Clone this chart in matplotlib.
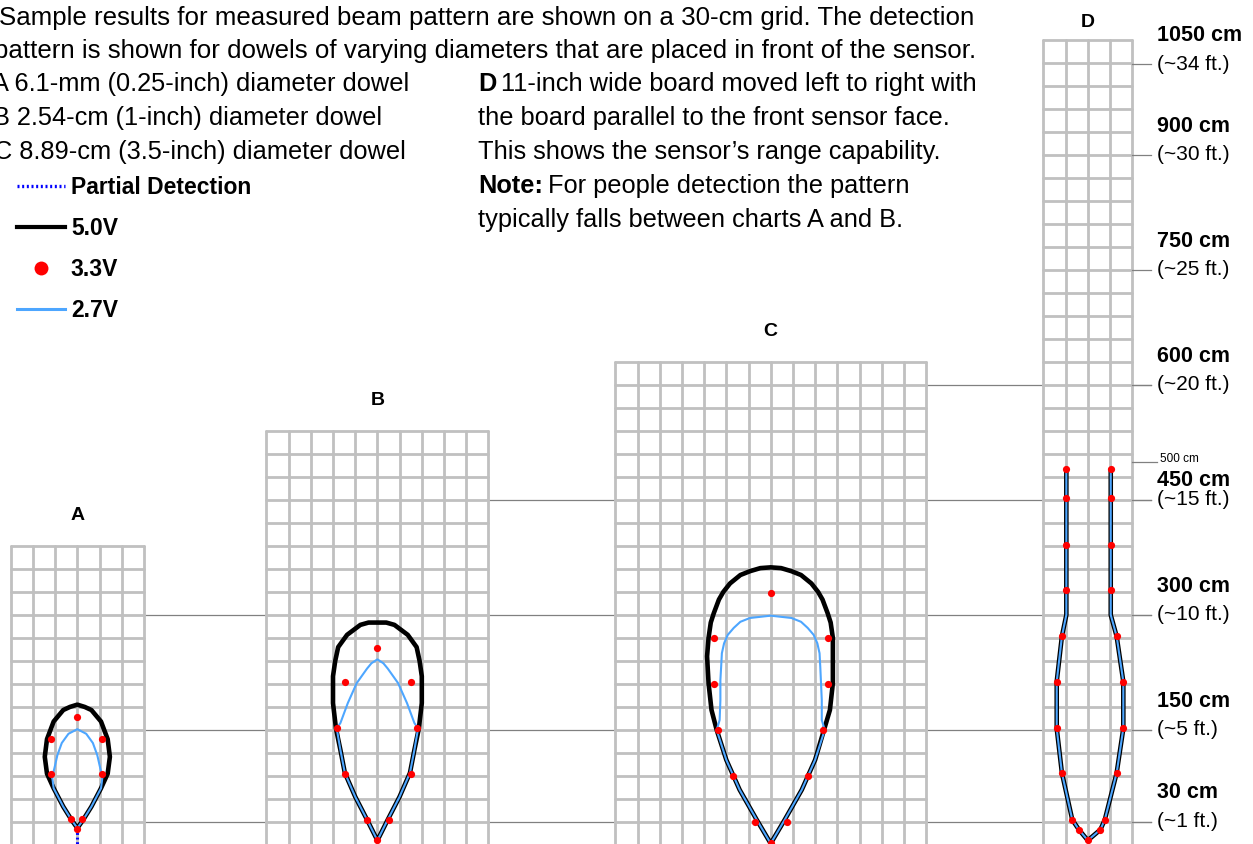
import matplotlib
matplotlib.use('Agg')
import matplotlib.pyplot as plt
from matplotlib.lines import Line2D

plt.rcParams['font.family'] = ['Liberation Sans', 'DejaVu Sans']

# -----------------------------
# data (cm, x relative to the sensor, y = distance from sensor)
# -----------------------------
A_v50_x = [0, -8, -19, -32, -41, -44, -41, -32, -19, -10, 0, 10, 19, 32, 41, 44, 41, 32, 19, 8, 0]
A_v50_y = [22, 33, 50, 74, 93, 115, 138, 161, 176, 180, 183, 180, 176, 161, 138, 115, 93, 74, 50, 33, 22]
A_v33_x = [0, -35, 34, -35, 34, -8, 6, 0]
A_v33_y = [167, 138, 138, 93, 93, 34, 34, 21]
A_v27_x = [0, -8, -19, -32, -34, -31, -27, -21, -12, 0, 12, 21, 27, 31, 34, 32, 19, 8, 0]
A_v27_y = [22, 33, 50, 74, 89, 100, 117, 133, 145, 151, 145, 133, 117, 100, 89, 74, 50, 33, 22]
A_part_x = [0, 0]
A_part_y = [22, 0]

B_v50_x = [0, -14, -30, -44, -50, -56, -60, -60, -57, -53, -41, -23, -12, 0,
           12, 23, 41, 53, 57, 60, 60, 56, 50, 44, 30, 14, 0]
B_v50_y = [6, 33, 63, 94, 124, 152, 185, 220, 240, 258, 274, 287, 290, 290,
           290, 287, 274, 258, 240, 220, 185, 152, 124, 94, 63, 33, 6]
B_v33_x = [0, -44, 46, -55, 54, -44, 45, -14, 16, 0]
B_v33_y = [257, 212, 212, 152, 152, 93, 93, 33, 33, 6]
B_v27_x = [0, -14, -30, -44, -50, -55, -50, -40, -28, -14, -8, 0,
           8, 14, 28, 40, 50, 55, 50, 44, 30, 14, 0]
B_v27_y = [6, 33, 63, 94, 124, 152, 159, 185, 211, 230, 237, 242,
           237, 230, 211, 185, 159, 152, 124, 94, 63, 33, 6]

C_v50_x = [0, -19, -42, -60, -73, -80, -84, -86, -84, -81, -77, -70, -64, -55, -41, -28, -14, 0,
           14, 28, 41, 55, 64, 70, 77, 81, 84, 84, 84, 80, 72, 60, 42, 19, 0]
C_v50_y = [2, 33, 72, 111, 150, 176, 211, 246, 270, 290, 302, 320, 330, 341, 352, 357, 361, 362,
           361, 357, 352, 341, 330, 320, 302, 290, 270, 246, 211, 176, 150, 111, 72, 33, 2]
C_v33_x = [0, -77, 77, -77, 77, -71, 71, -51, 51, -21, 22, 0]
C_v33_y = [329, 270, 270, 210, 210, 150, 150, 90, 90, 30, 30, 3]
C_v27_x = [0, -19, -42, -60, -73, -69, -68, -68, -67, -66, -63, -58, -50, -41, -28, 0,
           28, 41, 50, 58, 63, 66, 67, 69, 69, 73, 60, 42, 19, 0]
C_v27_y = [2, 33, 72, 111, 150, 163, 189, 215, 232, 250, 263, 274, 283, 291, 296, 299,
           296, 291, 283, 274, 263, 250, 232, 189, 163, 150, 111, 72, 33, 2]

D_v50_x = [-29, -29, -35, -42, -42, -35, -21, -12, 0, 17, 23, 39, 48, 48, 39, 31, 31]
D_v50_y = [490, 300, 272, 213, 152, 94, 33, 20, 6, 20, 33, 94, 152, 213, 272, 300, 490]
D_v33_x = [-29, -29, -29, -29, -35, -42, -42, -35, -21, -12, 0,
           17, 23, 39, 48, 48, 39, 31, 31, 31, 31]
D_v33_y = [490, 452, 391, 333, 272, 213, 152, 94, 33, 20, 6,
           20, 33, 94, 152, 213, 272, 333, 391, 452, 490]
D_v27_x = D_v50_x
D_v27_y = D_v50_y

chart_names = ['A', 'B', 'C', 'D']
chart_center = [104.5, 510, 1041.5, 1470]      # cm along the page
chart_cols = [6, 10, 14, 4]
chart_rows = [13, 18, 21, 35]
CELL = 30  # cm

ref_levels = [30, 150, 300, 450, 600]
ref_start = [194.5, 194.5, 194.5, 660, 851.5]
tick_levels = [1018, 900, 750, 600, 450, 300, 150, 30]
tick_cm = ['1050 cm', '900 cm', '750 cm', '600 cm', '450 cm', '300 cm', '150 cm', '30 cm']
tick_ft = ['(~34 ft.)', '(~30 ft.)', '(~25 ft.)', '(~20 ft.)', '(~15 ft.)',
           '(~10 ft.)', '(~5 ft.)', '(~1 ft.)']
tick_gap = [37, 37, 37, 37, 25, 37, 37, 38]

# -----------------------------
# figure
# -----------------------------
W, H = 1253, 844
PX_X, PX_Y = 0.74, 0.767   # pixels per cm
fig = plt.figure(figsize=(W / 100, H / 100), dpi=100)
ax = fig.add_axes([0, 0, 1, 1])
ax.set_xlim(0, W / PX_X)
ax.set_ylim(1 / PX_Y, 1 / PX_Y + H / PX_Y)
ax.axis('off')

GRID = '#c0c0c0'
REF = '#808080'
BLUE = '#4da6ff'

# reference lines (behind the grids)
x_end = chart_center[3] + 2 * CELL + 25
for lv, xs in zip(ref_levels, ref_start):
    ax.plot([xs, x_end], [lv, lv], color=REF, lw=0.9, zorder=1)
for lv in tick_levels:
    ax.plot([chart_center[3] + 2 * CELL, x_end], [lv, lv], color=REF, lw=0.9, zorder=4)
ax.plot([chart_center[3] + 2 * CELL, x_end + 8], [500, 500], color=REF, lw=0.9, zorder=4)

# grids
for name, cx, nc, nr in zip(chart_names, chart_center, chart_cols, chart_rows):
    left = cx - nc * CELL / 2
    right = cx + nc * CELL / 2
    top = nr * CELL
    ax.add_patch(plt.Rectangle((left, -10), right - left, top + 10, facecolor='white',
                               edgecolor='none', zorder=2))
    for j in range(nc + 1):
        xv = left + j * CELL
        ax.plot([xv, xv], [-10, top], color=GRID, lw=2.0, zorder=3, solid_capstyle='round')
    for k in range(1, nr + 1):
        ax.plot([left, right], [k * CELL, k * CELL], color=GRID, lw=2.0, zorder=3,
                solid_capstyle='round')
    ax.text(cx, top + (23 if name == 'D' else 40), name, ha='center', va='center',
            fontsize=14, fontweight='bold', zorder=6)

# patterns
patterns = [
    (A_v50_x, A_v50_y, A_v33_x, A_v33_y, A_v27_x, A_v27_y),
    (B_v50_x, B_v50_y, B_v33_x, B_v33_y, B_v27_x, B_v27_y),
    (C_v50_x, C_v50_y, C_v33_x, C_v33_y, C_v27_x, C_v27_y),
    (D_v50_x, D_v50_y, D_v33_x, D_v33_y, D_v27_x, D_v27_y),
]
for cx, (bx, by, rx, ry, lx, ly) in zip(chart_center, patterns):
    ax.plot([cx + v for v in bx], by, color='black', lw=3.3, zorder=7,
            solid_joinstyle='round', solid_capstyle='round')
    ax.plot([cx + v for v in lx], ly, color=BLUE, lw=1.5, zorder=8,
            solid_joinstyle='round')
    ax.plot([cx + v for v in rx], ry, 'o', color='red', ms=5.2, mec='none', zorder=9)
ax.plot([chart_center[0] + v for v in A_part_x], A_part_y, color='#0000ff', lw=2.2,
        ls=(0, (0.6, 0.9)), zorder=6)

# right-hand distance labels
xl = (chart_center[3] + 2 * CELL + 33)
for lv, t1, t2, g in zip(tick_levels, tick_cm, tick_ft, tick_gap):
    ax.text(xl, lv + g, t1, ha='left', va='center', fontsize=15.5, fontweight='bold', zorder=6)
    ax.text(xl, lv, t2, ha='left', va='center', fontsize=15, zorder=6)
ax.text(xl + 5, 503, '500 cm', ha='left', va='center', fontsize=8.5, zorder=6)

# -----------------------------
# text block
# -----------------------------
FS = 18.3
renderer = fig.canvas.get_renderer()


def ftext(x, y, s, **kw):
    return fig.text(x / W, 1 - y / H, s, ha='left', va='center', **kw)


def bold_lead(x, y, lead, rest):
    t = ftext(x, y, lead, fontsize=FS, fontweight='bold')
    bb = t.get_window_extent(renderer)
    ftext(bb.x1 + 5, y, rest, fontsize=FS)


ftext(-1, 18, 'Sample results for measured beam pattern are shown on a 30-cm grid. The detection',
      fontsize=18.6)
ftext(-6, 51, 'pattern is shown for dowels of varying diameters that are placed in front of the sensor.',
      fontsize=18.6)
ftext(-8, 84, 'A 6.1-mm (0.25-inch) diameter dowel', fontsize=FS)
ftext(-7, 118, 'B 2.54-cm (1-inch) diameter dowel', fontsize=FS)
ftext(-6, 152, 'C 8.89-cm (3.5-inch) diameter dowel', fontsize=FS)

bold_lead(478, 84, 'D', '11-inch wide board moved left to right with')
ftext(478, 118, 'the board parallel to the front sensor face.', fontsize=FS)
ftext(478, 152, 'This shows the sensor\u2019s range capability.', fontsize=FS)
bold_lead(478, 186, 'Note:', 'For people detection the pattern')
ftext(478, 220, 'typically falls between charts A and B.', fontsize=FS)

handles = [
    Line2D([], [], color='#0000ff', lw=2.4, ls=(0, (0.6, 0.8))),
    Line2D([], [], color='black', lw=3.0),
    Line2D([], [], color='red', marker='o', ls='none', ms=10, mec='none'),
    Line2D([], [], color=BLUE, lw=2.2),
]
labels = ['Partial Detection', '5.0V', '3.3V', '2.7V']
leg = ax.legend(handles, labels, loc='upper left', bbox_to_anchor=(17 / W, 1 - 176 / H),
                bbox_transform=fig.transFigure, frameon=False, borderpad=0, borderaxespad=0,
                handlelength=2.1, handletextpad=0.25, labelspacing=0.78,
                prop={'weight': 'bold', 'size': 16.5})

fig.savefig('out.png', dpi=100)
